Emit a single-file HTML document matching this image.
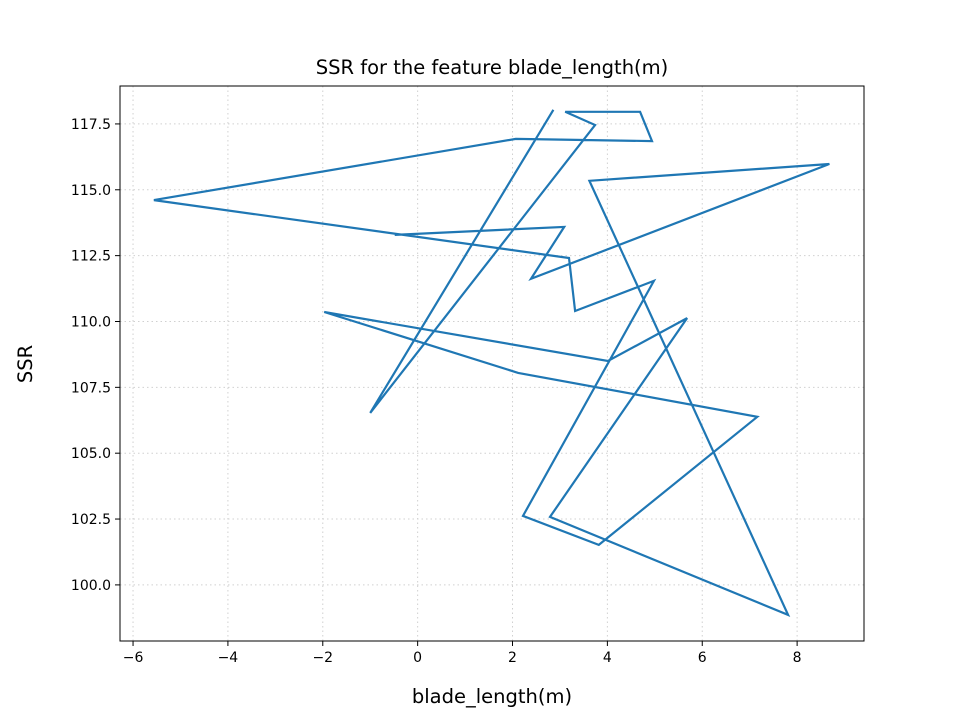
<!DOCTYPE html>
<html><head><meta charset="utf-8"><style>
body{margin:0;background:#fff;}
svg text{font-family:"DejaVu Sans","Liberation Sans",sans-serif;fill:#000;}
</style></head><body>
<svg id="chart" width="960" height="720" viewBox="0 0 960 720" xmlns="http://www.w3.org/2000/svg">
<rect width="960" height="720" fill="#fff"/>
<g id="grid"></g>
<g id="ticks"></g>
<g id="series"></g>
<rect x="120" y="86" width="744" height="555" fill="none" stroke="#000" stroke-width="1"/>
<text x="492" y="74" font-size="19.5" text-anchor="middle">SSR for the feature blade_length(m)</text>
<text x="492" y="703" font-size="19.5" text-anchor="middle">blade_length(m)</text>
<text x="32" y="364" font-size="19.5" text-anchor="middle" transform="rotate(-90 32 364)">SSR</text>
</svg>
<script>
const xValues=[2.85,-1.00,3.74,3.11,4.69,4.94,2.07,-5.56,3.19,3.32,4.98,2.22,3.82,7.16,2.12,-1.97,4.01,5.68,2.79,7.81,3.62,8.68,2.39,3.09,-0.46];
const ssrValues=[118.0,106.53,117.46,117.96,117.96,116.85,116.93,114.61,112.41,110.40,111.54,102.62,101.52,106.38,108.05,110.36,108.50,110.13,102.58,98.86,115.34,115.98,111.62,113.59,113.29];
const xTicks=[-6,-4,-2,0,2,4,6,8];
const yTicks=[100.0,102.5,105.0,107.5,110.0,112.5,115.0,117.5];
const L=120,R=864,T=86,B=641;
const xMin=-6.275,xMax=9.41,yMin=97.87,yMax=118.94;
function sx(v){return L+(v-xMin)/(xMax-xMin)*(R-L);}
function sy(v){return B-(v-yMin)/(yMax-yMin)*(B-T);}
const NS="http://www.w3.org/2000/svg";
const grid=document.getElementById('grid'),ticks=document.getElementById('ticks'),series=document.getElementById('series');
function mk(tag,attrs,parent){const e=document.createElementNS(NS,tag);for(const k in attrs)e.setAttribute(k,attrs[k]);parent.appendChild(e);return e;}
xTicks.forEach(v=>{
  const x=sx(v);
  const g=mk('line',{x1:x,x2:x,y1:T,y2:B,stroke:'#d0d0d0','stroke-width':1,'stroke-dasharray':'1.5,3'},grid);
  
  
  const t=mk('line',{x1:x,x2:x,y1:B,y2:B+5,stroke:'#000','stroke-width':1},ticks);
  
  
  const l=mk('text',{x:x,y:B+21,'font-size':'14','text-anchor':'middle'},ticks);
  l.textContent=(v<0?'\u2212'+Math.abs(v):String(v));
  
  
});
yTicks.forEach(v=>{
  const y=sy(v);
  const g=mk('line',{x1:L,x2:R,y1:y,y2:y,stroke:'#d0d0d0','stroke-width':1,'stroke-dasharray':'1.5,3'},grid);
  
  
  const t=mk('line',{x1:L-5,x2:L,y1:y,y2:y,stroke:'#000','stroke-width':1},ticks);
  
  
  const l=mk('text',{x:L-9,y:y+5,'font-size':'14','text-anchor':'end'},ticks);
  l.textContent=v.toFixed(1);
  
  
});
const pts=xValues.map((v,i)=>sx(v).toFixed(1)+','+sy(ssrValues[i]).toFixed(1)).join(' ');
const pl=mk('polyline',{points:pts,fill:'none',stroke:'#1f77b4','stroke-width':2.2,'stroke-linejoin':'miter','stroke-linecap':'square'},series);


</script>
</body></html>
